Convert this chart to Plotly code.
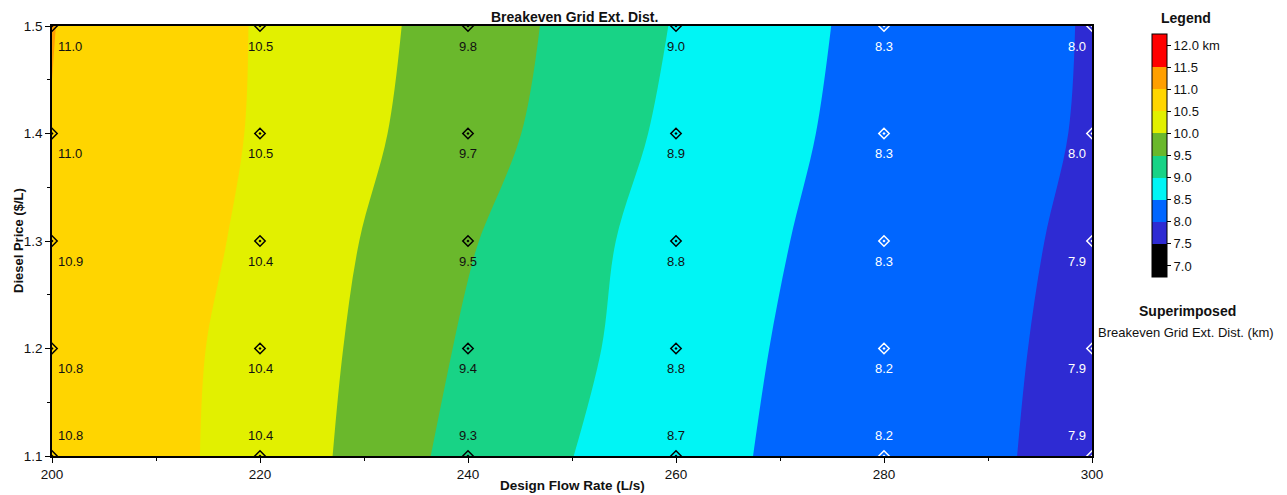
import plotly.graph_objects as go

# Data
flow_rates = [200, 220, 240, 260, 280, 300]          # Design Flow Rate (L/s)
diesel_prices = [1.1, 1.2, 1.3, 1.4, 1.5]            # Diesel Price ($/L)
# Breakeven grid extension distance (km), rows = diesel price, cols = flow rate
dist_p110 = [10.82, 10.37, 9.31, 8.70, 8.16, 7.91]
dist_p120 = [10.84, 10.38, 9.43, 8.76, 8.18, 7.92]
dist_p130 = [10.92, 10.42, 9.54, 8.78, 8.27, 7.92]
dist_p140 = [10.99, 10.46, 9.71, 8.89, 8.31, 7.96]
dist_p150 = [11.01, 10.47, 9.78, 8.97, 8.34, 7.97]
z_grid = [dist_p110, dist_p120, dist_p130, dist_p140, dist_p150]

legend_levels = [7.0, 7.5, 8.0, 8.5, 9.0, 9.5, 10.0, 10.5, 11.0, 11.5, 12.0]
legend_ticktext = ["7.0", "7.5", "8.0", "8.5", "9.0", "9.5", "10.0", "10.5", "11.0", "11.5", "12.0 km"]
band_colors = ["#000000", "#2E2BD3", "#0066FF", "#00F5F5", "#18D386",
               "#6AB82C", "#E2F000", "#FFD500", "#FF9F00", "#FF0000"]

# Stepwise colorscale matching plotly's contour fill mapping
n = len(legend_levels)  # 11
colorscale = []
for k, c in enumerate(band_colors):
    lo = 0.0 if k == 0 else (k + 0.5) / n
    hi = 1.0 if k == len(band_colors) - 1 else (k + 1.5) / n
    colorscale.append([lo, c])
    colorscale.append([hi, c])

FONT = "Liberation Sans, Arial"
OFF = 8  # default page body margin
W, H = 1287 - OFF, 495 - OFF
L, R, T, B = 52 - OFF, 1092 - OFF, 26 - OFF, 456 - OFF
PW, PH = R - L, B - T


def px_x(x):
    return (x - OFF - L) / PW


def px_y(y):
    return (B - (y - OFF)) / PH


fig = go.Figure()

fig.add_trace(go.Contour(
    x=flow_rates, y=diesel_prices, z=z_grid,
    autocontour=False,
    contours=dict(start=7.0, end=12.0, size=0.5, coloring="fill", showlines=False),
    line=dict(width=0),
    colorscale=colorscale,
    showscale=True,
    colorbar=dict(
        x=px_x(1152), xanchor="left", xpad=0,
        y=px_y(155.5), yanchor="middle", ypad=0,
        len=243, lenmode="pixels", thickness=15,
        outlinecolor="black", outlinewidth=1,
        tickvals=legend_levels, ticktext=legend_ticktext,
        ticks="outside", ticklen=4, tickcolor="black",
        tickfont=dict(family=FONT, size=13, color="#111"),
    ),
    hoverinfo="skip",
))

# markers
for j, xv in enumerate(flow_rates):
    col = "black" if xv < 280 else "white"
    fig.add_trace(go.Scatter(
        x=[xv] * len(diesel_prices), y=diesel_prices, mode="markers",
        marker=dict(symbol="diamond-open-dot", size=8, color=col, line=dict(width=1.5, color=col)),
        showlegend=False, cliponaxis=True, hoverinfo="skip",
    ))

# value labels
for i, yv in enumerate(diesel_prices):
    for j, xv in enumerate(flow_rates):
        val = z_grid[i][j]
        col = "#111" if xv < 280 else "white"
        if j == 0:
            xa, xs = "left", 4
        elif j == len(flow_rates) - 1:
            xa, xs = "right", -4
        else:
            xa, xs = "center", 0
        ys = 21 if i == 0 else -20
        fig.add_annotation(
            x=xv, y=yv, text=f"{val:.1f}", showarrow=False,
            xanchor=xa, yanchor="middle", xshift=xs, yshift=ys,
            font=dict(family=FONT, size=13, color=col),
        )

# legend texts
fig.add_annotation(x=px_x(1186), y=px_y(18), xref="paper", yref="paper",
                   text="<b>Legend</b>", showarrow=False, xanchor="center", yanchor="middle",
                   font=dict(family=FONT, size=14, color="#111"))
fig.add_annotation(x=px_x(1187), y=px_y(311), xref="paper", yref="paper",
                   text="<b>Superimposed</b>", showarrow=False, xanchor="center", yanchor="middle",
                   font=dict(family=FONT, size=14, color="#111"))
fig.add_annotation(x=px_x(1186), y=px_y(332), xref="paper", yref="paper",
                   text="Breakeven Grid Ext. Dist. (km)", showarrow=False, xanchor="center", yanchor="middle",
                   font=dict(family=FONT, size=13, color="#111"))
# chart title and axis titles
fig.add_annotation(x=px_x(574), y=px_y(17), xref="paper", yref="paper",
                   text="<b>Breakeven Grid Ext. Dist.</b>", showarrow=False,
                   xanchor="center", yanchor="middle",
                   font=dict(family=FONT, size=14, color="#111"))
fig.add_annotation(x=px_x(572), y=px_y(485), xref="paper", yref="paper",
                   text="<b>Design Flow Rate (L/s)</b>", showarrow=False,
                   xanchor="center", yanchor="middle",
                   font=dict(family=FONT, size=13.5, color="#111"))
fig.add_annotation(x=px_x(18), y=0.5, xref="paper", yref="paper",
                   text="<b>Diesel Price ($/L)</b>", showarrow=False, textangle=-90,
                   xanchor="center", yanchor="middle",
                   font=dict(family=FONT, size=13, color="#111"))

fig.update_layout(
    width=W, height=H,
    margin=dict(l=L, r=W - R, t=T, b=H - B, autoexpand=False),
    paper_bgcolor="white", plot_bgcolor="white",
    font=dict(family=FONT, size=13, color="#111"),
    showlegend=False,
)

fig.update_xaxes(
    range=[200, 300], tickvals=[200, 220, 240, 260, 280, 300],
    ticks="outside", ticklen=5, tickcolor="black",
    minor=dict(tickvals=[210, 230, 250, 270, 290], ticks="outside", ticklen=3, tickcolor="black"),
    showline=True, linecolor="black", linewidth=1.5, mirror=True, showgrid=False, zeroline=False,
    automargin=False,
    tickfont=dict(family=FONT, size=13.5, color="#111"),
)
fig.update_yaxes(
    range=[1.1, 1.5], tickvals=[1.1, 1.2, 1.3, 1.4, 1.5], ticktext=["1.1", "1.2", "1.3", "1.4", "1.5"],
    ticks="outside", ticklen=5, tickcolor="black",
    minor=dict(tickvals=[1.15, 1.25, 1.35, 1.45], ticks="outside", ticklen=3, tickcolor="black"),
    showline=True, linecolor="black", linewidth=1.5, mirror=True, showgrid=False, zeroline=False,
    automargin=False,
    tickfont=dict(family=FONT, size=13.5, color="#111"),
)

fig.write_html("out.html")
